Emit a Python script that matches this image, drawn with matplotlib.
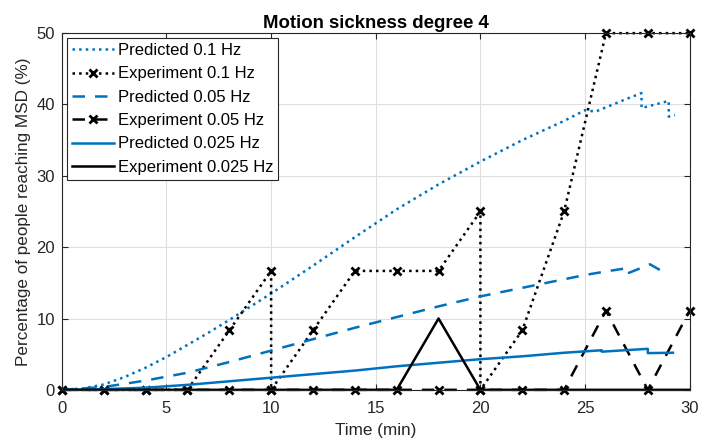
import numpy as np
import matplotlib.pyplot as plt

plt.rcParams['font.family'] = ['Liberation Sans', 'DejaVu Sans']

blue = '#0072BD'

# model predictions (time in min, % of people reaching MSD)
pred01_t = [0, 1, 2, 3, 4, 5, 6, 7, 8, 10, 12, 14, 16, 18, 20, 22, 24, 25, 25.5, 26, 27, 27.7, 27.7, 29.0, 29.0, 29.3]
pred01_v = [0, 0.2, 0.75, 1.8, 3.1, 4.6, 6.3, 8.0, 9.8, 13.5, 17.4, 21.4, 25.3, 28.8, 32.0, 35.0, 37.7, 39.2, 39.0, 39.6, 40.8, 41.6, 39.5, 40.5, 38.3, 38.5]

pred005_t = [0, 2, 4, 6, 8, 10, 12, 14, 16, 18, 20, 22, 24, 25, 26, 27.1, 27.1, 28.1, 28.7]
pred005_v = [0, 0.4, 1.3, 2.4, 3.9, 5.5, 7.1, 8.7, 10.2, 11.7, 13.1, 14.3, 15.5, 16.1, 16.6, 17.1, 16.4, 17.6, 16.6]

pred0025_t = [0, 2, 4, 6, 8, 10, 12, 14, 16, 18, 20, 22, 24, 25.8, 25.8, 28.0, 28.0, 29.2]
pred0025_v = [0, 0.1, 0.3, 0.7, 1.2, 1.7, 2.2, 2.7, 3.3, 3.8, 4.3, 4.7, 5.2, 5.55, 5.35, 5.75, 5.15, 5.2]

# experiment results
exp01_t = [0, 2, 4, 6, 8, 10, 10, 12, 14, 16, 18, 20, 20, 22, 24, 26, 28, 30]
exp01_v = [0, 0, 0, 0, 8.33, 16.67, 0, 8.33, 16.67, 16.67, 16.67, 25, 0, 8.33, 25, 50, 50, 50]

exp005_t = [0, 2, 4, 6, 8, 10, 12, 14, 16, 18, 20, 22, 24, 26, 28, 30]
exp005_v = [0, 0, 0, 0, 0, 0, 0, 0, 0, 0, 0, 0, 0, 11.11, 0, 11.11]

exp0025_t = [0, 2, 4, 6, 8, 10, 12, 14, 16, 18, 20, 22, 24, 26, 28, 30]
exp0025_v = [0, 0, 0, 0, 0, 0, 0, 0, 0, 10, 0, 0, 0, 0, 0, 0]

fig = plt.figure(figsize=(7.11, 4.42), dpi=100)
ax = fig.add_axes([0.087, 0.118, 0.883, 0.807])

lw = 1.8
mk = dict(marker='x', ms=5.5, mew=2)
ax.plot(pred01_t, pred01_v, ':', color=blue, lw=lw, label='Predicted 0.1 Hz', clip_on=False)
ax.plot(exp01_t, exp01_v, ':', color='k', lw=lw, label='Experiment 0.1 Hz', clip_on=False, **mk)
ax.plot(pred005_t, pred005_v, '--', color=blue, lw=lw, dashes=(5, 4), label='Predicted 0.05 Hz', clip_on=False)
ax.plot(exp005_t, exp005_v, '--', color='k', lw=lw, dashes=(5, 4), label='Experiment 0.05 Hz', clip_on=False, **mk)
ax.plot(pred0025_t, pred0025_v, '-', color=blue, lw=lw, label='Predicted 0.025 Hz', clip_on=False)
ax.plot(exp0025_t, exp0025_v, '-', color='k', lw=lw, label='Experiment 0.025 Hz', clip_on=False)

ax.set_xlim(0, 30)
ax.set_ylim(0, 50)
ax.set_xticks(np.arange(0, 31, 5))
ax.set_yticks(np.arange(0, 51, 10))
ax.grid(True, color='#dedede', lw=0.8)
ax.set_axisbelow(True)
ax.tick_params(direction='in', top=True, right=True, labelsize=12, colors='#262626', length=4)
ax.tick_params(axis='x', pad=8)
ax.tick_params(axis='y', pad=5)
for s in ax.spines.values():
    s.set_color('#262626')
    s.set_linewidth(0.8)

ax.set_title('Motion sickness degree 4', fontsize=13.4, fontweight='bold', pad=4)
ax.set_xlabel('Time (min)', fontsize=12.3, color='#262626', labelpad=5)
ax.set_ylabel('Percentage of people reaching MSD (%)', fontsize=12.3, color='#262626', labelpad=4)

leg = ax.legend(loc='upper left', fontsize=12, handlelength=2.5, fancybox=False,
                framealpha=1, edgecolor='#262626', borderaxespad=0.3,
                labelspacing=0.5, handletextpad=0.25, borderpad=0.3)
leg.get_frame().set_linewidth(0.8)

fig.savefig('out.png', dpi=100)
